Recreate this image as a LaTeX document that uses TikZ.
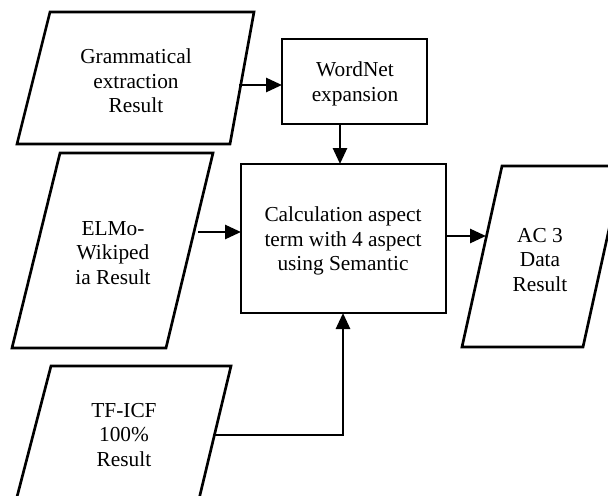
\documentclass[tikz,border=0pt]{standalone}
\usepackage{fontspec}
\setmainfont{Liberation Serif}
\usetikzlibrary{arrows.meta}
\begin{document}
\begin{tikzpicture}[x=0.75pt,y=-0.75pt,
  shapeline/.style={draw=black,line width=2pt,line join=miter},
  lbl/.style={align=center,font=\fontsize{16}{18.5}\selectfont,inner sep=0pt},
  conn/.style={draw=black,line width=2pt,-{Triangle[length=12pt,width=10.5pt]}}]
\useasboundingbox (0,0) rectangle (608,496);
\clip (0,0) rectangle (608,496);
% shapes
\draw[shapeline] (50,12) -- (254,12) -- (230,144) -- (17,144) -- cycle;
\draw[shapeline] (282,39) rectangle (427,124);
\draw[shapeline] (241,164) rectangle (446,313);
\draw[shapeline] (60,153) -- (213,153) -- (166,348) -- (12,348) -- cycle;
\draw[shapeline] (502,166) -- (623,166) -- (583,347) -- (462,347) -- cycle;
\draw[shapeline] (51,366) -- (231,366) -- (194,520) -- (11,520) -- cycle;
% texts
\node[lbl] (gram) at (136,81) {Grammatical\\extraction\\Result};
\node[lbl] (wn) at (355,84) {WordNet\\expansion};
\node[lbl] (calc) at (343,241) {Calculation aspect\\term with 4 aspect\\using Semantic};
\node[lbl] (elmo) at (113,253) {ELMo-\\Wikiped\\ia Result};
\node[lbl] (ac) at (540,260) {AC 3\\Data\\Result};
\node[lbl] (tf) at (124,435) {TF-ICF\\100\%\\Result};
% connector anchors
\coordinate (gOut) at (239,85);
\coordinate (wIn) at (282,85);
\coordinate (wOut) at (340,124);
\coordinate (cTop) at (340,164);
\coordinate (eOut) at (198,232);
\coordinate (cLeft) at (241,232);
\coordinate (cRight) at (446,236);
\coordinate (acIn) at (486,236);
\coordinate (tOut) at (215,435);
\coordinate (cBot) at (343,313);
% connectors
\draw[conn] (gOut) -- (wIn);
\draw[conn] (wOut) -- (cTop);
\draw[conn] (eOut) -- (cLeft);
\draw[conn] (cRight) -- (acIn);
\draw[conn] (tOut) -| (cBot);
\end{tikzpicture}
\end{document}
